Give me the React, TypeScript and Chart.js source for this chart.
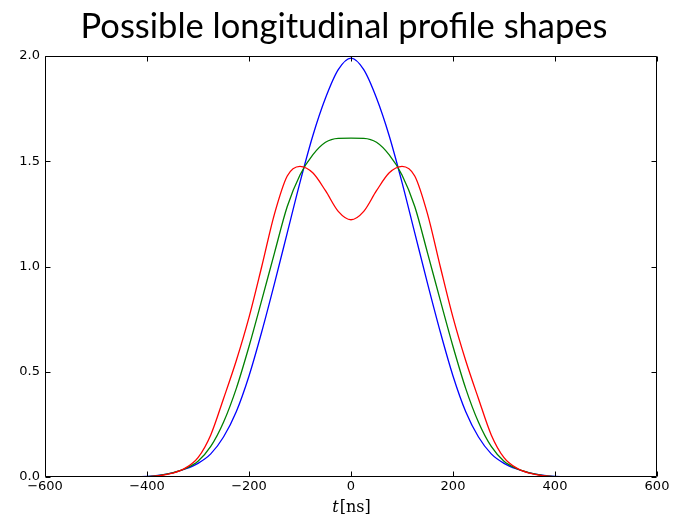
import React, { useEffect, useRef } from "react";
import { Chart, registerables } from "chart.js";

Chart.register(...registerables);

// time axis samples (ns)
const T_NS = [
  -450, -425, -400, -375, -350, -325, -300, -275, -250, -225, -200, -175, -150, -125, -100, -75, -50, -25,
  0,
  25, 50, 75, 100, 125, 150, 175, 200, 225, 250, 275, 300, 325, 350, 375, 400, 425, 450,
];

const BLUE = [
  0, 0.0005, 0.003, 0.009, 0.02, 0.038, 0.065, 0.11, 0.19, 0.31, 0.48, 0.69, 0.92, 1.16, 1.4, 1.62, 1.8, 1.935,
  1.99,
  1.935, 1.8, 1.62, 1.4, 1.16, 0.92, 0.69, 0.48, 0.31, 0.19, 0.11, 0.065, 0.038, 0.02, 0.009, 0.003, 0.0005, 0,
];

const GREEN = [
  0, 0, 0.002, 0.008, 0.02, 0.04, 0.075, 0.145, 0.26, 0.42, 0.62, 0.84, 1.065, 1.285, 1.435, 1.53, 1.59, 1.609,
  1.61,
  1.609, 1.59, 1.53, 1.435, 1.285, 1.065, 0.84, 0.62, 0.42, 0.26, 0.145, 0.075, 0.04, 0.02, 0.008, 0.002, 0, 0,
];

const RED = [
  0, 0, 0.001, 0.006, 0.018, 0.042, 0.092, 0.2, 0.372, 0.552, 0.758, 1.0, 1.25, 1.43, 1.476, 1.445, 1.36, 1.262,
  1.222,
  1.262, 1.36, 1.445, 1.476, 1.43, 1.25, 1.0, 0.758, 0.552, 0.372, 0.2, 0.092, 0.042, 0.018, 0.006, 0.001, 0, 0,
];

const TITLE = "Possible longitudinal profile shapes";
const X_TICKS = [-600, -400, -200, 0, 200, 400, 600];
const Y_TICKS = [0, 0.5, 1, 1.5, 2];

const toPoints = (ys: number[]) => ys.map((y, i) => ({ x: T_NS[i], y }));

const framePlugin = {
  id: "frameTicks",
  afterDatasetsDraw(chart: any) {
    const { ctx, chartArea: a, scales } = chart;
    const L = Math.round(a.left) + 0.5;
    const R = Math.round(a.right) - 0.5;
    const Tp = Math.round(a.top) + 0.5;
    const B = Math.round(a.bottom) - 0.5;
    const tl = 5;
    ctx.save();
    ctx.strokeStyle = "#000";
    ctx.lineWidth = 1;
    ctx.beginPath();
    ctx.rect(L, Tp, R - L, B - Tp);
    for (const v of X_TICKS) {
      const px = Math.round(scales.x.getPixelForValue(v)) + 0.5;
      ctx.moveTo(px, B);
      ctx.lineTo(px, B - tl);
      ctx.moveTo(px, Tp);
      ctx.lineTo(px, Tp + tl);
    }
    for (const v of Y_TICKS) {
      const py = Math.round(scales.y.getPixelForValue(v)) + 0.5;
      ctx.moveTo(L, py);
      ctx.lineTo(L + tl, py);
      ctx.moveTo(R, py);
      ctx.lineTo(R - tl, py);
    }
    ctx.stroke();

    // x-axis label: italic t + upright [ns]
    const cx = (a.left + a.right) / 2;
    const baseY = 512;
    ctx.fillStyle = "#000";
    ctx.textBaseline = "alphabetic";
    ctx.font = "italic 16px 'DejaVu Serif'";
    const wT = ctx.measureText("t").width;
    ctx.font = "16px 'DejaVu Serif'";
    const wN = ctx.measureText("[ns]").width;
    const start = cx - (wT + wN) / 2;
    ctx.font = "italic 16px 'DejaVu Serif'";
    ctx.textAlign = "left";
    ctx.fillText("t", start, baseY);
    ctx.font = "16px 'DejaVu Serif'";
    ctx.fillText("[ns]", start + wT + 1, baseY);
    ctx.restore();
  },
};

export default function App() {
  const ref = useRef<HTMLCanvasElement | null>(null);

  useEffect(() => {
    document.body.style.margin = "0";
    const canvas = ref.current;
    if (!canvas) return;
    const lineDs = (label: string, data: number[], color: string) => ({
      label,
      data: toPoints(data),
      borderColor: color,
      backgroundColor: color,
      borderWidth: 1.3,
      pointRadius: 0,
      fill: false,
      cubicInterpolationMode: "monotone" as const,
    });
    const chart = new Chart(canvas, {
      type: "line",
      data: {
        datasets: [
          lineDs("red", RED, "#ff0000"),
          lineDs("green", GREEN, "#008000"),
          lineDs("blue", BLUE, "#0000ff"),
        ],
      },
      options: {
        animation: false,
        responsive: false,
        events: [],
        layout: { padding: { left: 9, right: 0, top: 0, bottom: 0 } },
        plugins: {
          legend: { display: false },
          tooltip: { enabled: false },
          title: {
            display: true,
            text: TITLE,
            color: "#000",
            font: { family: "Lato", size: 34.5, weight: "normal", lineHeight: 1.2 },
            padding: { top: 6, bottom: 8.6 },
          },
        },
        scales: {
          x: {
            type: "linear",
            min: -600,
            max: 600,
            afterFit: (s: any) => {
              s.height = 41;
            },
            afterBuildTicks: (s: any) => {
              s.ticks = X_TICKS.map((v) => ({ value: v }));
            },
            grid: { display: false, drawTicks: false },
            border: { display: false },
            ticks: {
              color: "#000",
              padding: 2,
              maxRotation: 0,
              font: { family: "DejaVu Sans", size: 13 },
              callback: (v: any) => String(v).replace("-", "\u2212"),
            },
          },
          y: {
            type: "linear",
            position: "left",
            min: 0,
            max: 2,
            afterFit: (s: any) => {
              s.width = 36;
            },
            afterBuildTicks: (s: any) => {
              s.ticks = Y_TICKS.map((v) => ({ value: v }));
            },
            grid: { display: false, drawTicks: false },
            border: { display: false },
            ticks: {
              color: "#000",
              padding: 5,
              font: { family: "DejaVu Sans", size: 13 },
              callback: (v: any) => Number(v).toFixed(1),
            },
          },
          yRight: {
            type: "linear",
            position: "right",
            min: 0,
            max: 2,
            afterFit: (s: any) => {
              s.width = 22;
            },
            grid: { display: false, drawTicks: false },
            border: { display: false },
            ticks: { display: false },
          },
        },
      },
      plugins: [framePlugin],
    });
    return () => chart.destroy();
  }, []);

  return (
    <div style={{ width: 679, height: 518, background: "#fff" }}>
      <canvas ref={ref} width={679} height={518} style={{ display: "block" }} />
    </div>
  );
}
